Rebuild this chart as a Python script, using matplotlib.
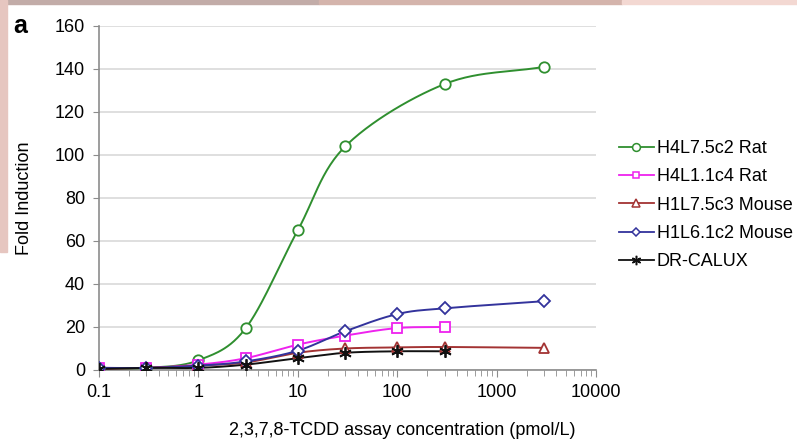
import numpy as np
import matplotlib
matplotlib.use('Agg')
from matplotlib import pyplot as plt
from matplotlib.patches import Rectangle

plt.rcParams['font.family'] = ['Liberation Sans', 'DejaVu Sans']

# concentrations (pmol/L)
conc = [0.1, 0.3, 1, 3, 10, 30, 100, 300, 3000]

# fold induction per cell line (None = no point)
h4l75_rat = [1, 1, 4.5, 19.5, 65, 104, None, 133, 141]
h4l11_rat = [1, 1, 2.5, 5.5, 11.8, 16, 19.5, 20, None]
h1l75_mouse = [0.5, 1, 2, 3.5, 8, 10, 10.5, 10.7, 10.3]
h1l61_mouse = [1, 1, 2, 4, 9, 18, 26, 28.7, 32]
dr_calux = [0.5, 1, 1, 2.5, 5.5, 8, 8.7, 8.7, None]

STAR = (6, 2, 0)
series = [
    ('H4L7.5c2 Rat', h4l75_rat, '#2f8f2f', 'o', 7.5),
    ('H4L1.1c4 Rat', h4l11_rat, '#ee22ee', 's', 6.5),
    ('H1L7.5c3 Mouse', h1l75_mouse, '#a33333', '^', 7),
    ('H1L6.1c2 Mouse', h1l61_mouse, '#33339c', 'D', 6),
    ('DR-CALUX', dr_calux, '#111111', STAR, 9),
]


def smooth(x, y, n=30):
    # Excel-like smoothed line: Catmull-Rom through points in log-x space
    lx = np.log10(x)
    y = np.asarray(y, float)
    px = np.concatenate([[2 * lx[0] - lx[1]], lx, [2 * lx[-1] - lx[-2]]])
    py = np.concatenate([[2 * y[0] - y[1]], y, [2 * y[-1] - y[-2]]])
    ox, oy = [], []
    t = np.linspace(0, 1, n)
    for i in range(1, len(px) - 2):
        p0, p1, p2, p3 = px[i-1], px[i], px[i+1], px[i+2]
        q0, q1, q2, q3 = py[i-1], py[i], py[i+1], py[i+2]
        cx = 0.5 * (2*p1 + (-p0 + p2)*t + (2*p0 - 5*p1 + 4*p2 - p3)*t**2 + (-p0 + 3*p1 - 3*p2 + p3)*t**3)
        cy = 0.5 * (2*q1 + (-q0 + q2)*t + (2*q0 - 5*q1 + 4*q2 - q3)*t**2 + (-q0 + 3*q1 - 3*q2 + q3)*t**3)
        ox.extend(cx)
        oy.extend(cy)
    return 10 ** np.array(ox), np.array(oy)


fig = plt.figure(figsize=(7.97, 4.42), dpi=100)
fig.patch.set_facecolor('white')

# blurred photo background at the edges
fig.patches.append(Rectangle((0, 0.991), 0.4, 0.009, transform=fig.transFigure, color='#c2aca8', zorder=-5))
fig.patches.append(Rectangle((0.4, 0.991), 0.38, 0.009, transform=fig.transFigure, color='#d4b4ac', zorder=-5))
fig.patches.append(Rectangle((0.78, 0.991), 0.22, 0.009, transform=fig.transFigure, color='#f3d8d2', zorder=-5))
fig.patches.append(Rectangle((0, 0.43), 0.009, 0.57, transform=fig.transFigure, color='#e6c6c0', zorder=-5))

ax = fig.add_axes([0.1242, 0.1629, 0.6236, 0.7783])

for name, vals, col, mk, ms in series:
    xs = [c for c, v in zip(conc, vals) if v is not None]
    ys = [v for v in vals if v is not None]
    sx, sy = smooth(xs, ys)
    ax.plot(sx, sy, color=col, lw=1.4, zorder=3)
    ax.plot(xs, ys, ls='none', marker=mk, ms=ms, mfc='white' if mk != STAR else col,
            mec=col, mew=1.3, zorder=4)
    ax.plot([], [], color=col, lw=1.3, marker=mk, ms=ms * 0.75,
            mfc='white', mec=col, mew=1.1, label=name)

ax.set_xscale('log')
ax.set_xlim(0.1, 10000)
ax.set_ylim(0, 160)
ax.set_yticks(range(0, 161, 20))
ax.set_xticks([0.1, 1, 10, 100, 1000, 10000])
ax.set_xticklabels(['0.1', '1', '10', '100', '1000', '10000'])
ax.yaxis.grid(True, color='#d9d9d9', lw=1.2)
ax.set_axisbelow(True)
for s in ['top', 'right']:
    ax.spines[s].set_visible(False)
for s in ['left', 'bottom']:
    ax.spines[s].set_color('#8c8c8c')
    ax.spines[s].set_linewidth(1.2)
ax.tick_params(axis='both', which='both', color='#8c8c8c', labelsize=13, direction='out')
ax.tick_params(axis='y', length=4, pad=6)
ax.tick_params(axis='x', which='major', length=5, pad=5)
ax.tick_params(axis='x', which='minor', length=4)

ax.set_xlabel('2,3,7,8-TCDD assay concentration (pmol/L)', fontsize=13, labelpad=15, x=0.61)
ax.set_ylabel('Fold Induction', fontsize=13, labelpad=16)

fig.text(0.017, 0.925, 'a', fontsize=18, fontweight='bold')

fig.legend(loc='upper left', bbox_to_anchor=(0.765, 0.704), frameon=False,
           fontsize=13, handlelength=1.95, handletextpad=0.15, labelspacing=0.63,
           borderpad=0)

plt.savefig('out.png', dpi=100)
